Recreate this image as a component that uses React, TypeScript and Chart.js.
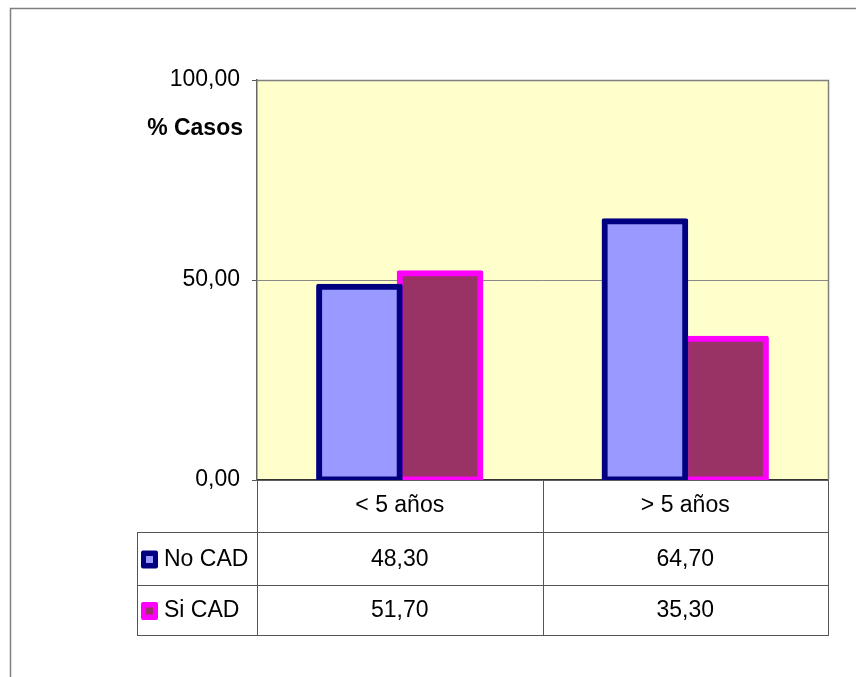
import React, { useEffect, useRef } from 'react';
import { Chart, registerables } from 'chart.js';

Chart.register(...registerables);

const categories = ['< 5 años', '> 5 años'];
const seriesNames = ['No CAD', 'Si CAD'];
const noCad = [48.3, 64.7];
const siCad = [51.7, 35.3];
const yTicks = [0, 50, 100];
const yTitle = '% Casos';

const FONT = '"Liberation Sans", Arial, sans-serif';
const fmt = (v: number) => v.toFixed(2).replace('.', ',');

const fills = ['#9999FF', '#993366'];
const borders = ['#000080', '#FF00FF'];

const tablePlugin = {
  id: 'tablePlugin',
  beforeDraw(chart: any) {
    const { ctx, chartArea: a } = chart;
    ctx.save();
    ctx.fillStyle = '#ffffff';
    ctx.fillRect(0, 0, chart.width, chart.height);
    ctx.fillStyle = '#FFFFCC';
    ctx.fillRect(a.left, a.top, a.right - a.left, a.bottom - a.top);
    ctx.strokeStyle = '#808080';
    ctx.lineWidth = 1.5;
    ctx.beginPath();
    ctx.moveTo(10.5, chart.height);
    ctx.lineTo(10.5, 8.5);
    ctx.lineTo(chart.width, 8.5);
    ctx.stroke();
    ctx.restore();
  },
  afterDraw(chart: any) {
    const { ctx, chartArea: a } = chart;
    const data = [noCad, siCad];
    ctx.save();
    ctx.strokeStyle = '#808080';
    ctx.lineWidth = 1.5;
    ctx.beginPath();
    ctx.moveTo(a.left, a.top + 0.5);
    ctx.lineTo(a.right + 0.5, a.top + 0.5);
    ctx.lineTo(a.right + 0.5, a.bottom);
    ctx.stroke();

    const n = categories.length;
    const catW = (a.right - a.left) / n;
    const hdrBottom = a.bottom + 52;
    const rowH = [53, 50];
    const rowTops = [hdrBottom, hdrBottom + rowH[0]];
    const tableBottom = hdrBottom + rowH[0] + rowH[1];
    const tableLeft = 137;

    ctx.strokeStyle = '#555555';
    ctx.lineWidth = 1;
    ctx.beginPath();
    [hdrBottom, rowTops[1], tableBottom].forEach((y) => {
      ctx.moveTo(tableLeft, Math.round(y) + 0.5);
      ctx.lineTo(a.right + 1, Math.round(y) + 0.5);
    });
    ctx.moveTo(tableLeft + 0.5, hdrBottom);
    ctx.lineTo(tableLeft + 0.5, tableBottom + 1);
    for (let i = 0; i <= n; i++) {
      const x = Math.round(a.left + i * catW) + 0.5;
      ctx.moveTo(x, a.bottom);
      ctx.lineTo(x, tableBottom + 1);
    }
    ctx.stroke();

    ctx.fillStyle = '#000';
    ctx.font = `23px ${FONT}`;
    ctx.textBaseline = 'middle';
    const xs = chart.scales.x;
    for (let r = 0; r < 2; r++) {
      const cy = rowTops[r] + rowH[r] / 2 + 1;
      const kx = 141, ky = cy - 9;
      ctx.fillStyle = borders[r];
      ctx.beginPath();
      ctx.roundRect(kx, ky, 17, 18, 2);
      ctx.fill();
      ctx.fillStyle = fills[r];
      ctx.fillRect(kx + 5, ky + 5.5, 7, 7);
      ctx.fillStyle = '#000';
      ctx.textAlign = 'left';
      ctx.fillText(seriesNames[r], 164, cy);
      ctx.textAlign = 'center';
      for (let i = 0; i < n; i++) {
        ctx.fillText(fmt(data[r][i]), xs.getPixelForValue(i), cy);
      }
    }

    ctx.font = `bold 23px ${FONT}`;
    ctx.textAlign = 'right';
    ctx.fillText(yTitle, 243, a.top + 49);
    ctx.restore();
  },
};

export default function App() {
  const ref = useRef<HTMLCanvasElement | null>(null);
  useEffect(() => {
    if (!ref.current) return;
    const barStyle = {
      borderWidth: 6,
      borderSkipped: false,
      borderRadius: 2,
      inflateAmount: 3,
      clip: { left: 10, top: 10, right: 10, bottom: 0 },
    };
    const chart = new Chart(ref.current, {
      type: 'bar',
      data: {
        labels: categories,
        datasets: [
          {
            label: seriesNames[0],
            data: noCad,
            backgroundColor: fills[0],
            borderColor: borders[0],
            ...barStyle,
          },
          {
            label: seriesNames[1],
            data: siCad,
            backgroundColor: fills[1],
            borderColor: borders[1],
            ...barStyle,
          },
        ],
      } as any,
      options: {
        responsive: false,
        animation: false,
        layout: { padding: { left: 0, top: 80, right: 28, bottom: 145 } },
        plugins: { legend: { display: false }, tooltip: { enabled: false } },
        datasets: { bar: { categoryPercentage: 0.565, barPercentage: 1.0 } },
        scales: {
          x: {
            grid: { display: false, drawTicks: false },
            border: { display: true, color: '#333333', width: 1.5 },
            ticks: { padding: 12, color: '#000', font: { family: FONT, size: 23 } },
            afterFit: (s: any) => { s.height = 52; },
          },
          y: {
            min: 0,
            max: 100,
            afterBuildTicks: (s: any) => { s.ticks = yTicks.map((v) => ({ value: v })); },
            grid: { color: '#888888', lineWidth: 1, tickLength: 5, tickColor: '#555555' },
            border: { display: true, color: '#666666', width: 1.5 },
            ticks: {
              padding: 12,
              color: '#000',
              font: { family: FONT, size: 23 },
              callback: (v: any) => fmt(Number(v)),
            },
            afterFit: (s: any) => { s.width = 257; },
          },
        },
      } as any,
      plugins: [tablePlugin],
    });
    return () => chart.destroy();
  }, []);
  return (
    <div style={{ position: 'absolute', left: 0, top: 0, width: 856, height: 677 }}>
      <canvas ref={ref} width={856} height={677} style={{ display: 'block' }} />
    </div>
  );
}
